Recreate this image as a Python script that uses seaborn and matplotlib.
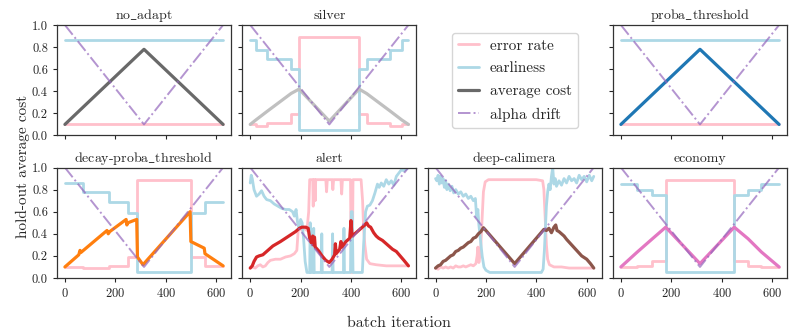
import matplotlib
matplotlib.use("Agg")
import matplotlib.pyplot as plt
import seaborn as sns
from matplotlib.lines import Line2D

sns.set_style("ticks")
plt.rcParams['font.family'] = ['cmr10', 'DejaVu Serif']
plt.rcParams['mathtext.fontset'] = 'cm'
plt.rcParams['axes.formatter.use_mathtext'] = True

# ---------------- data ----------------
ALPHA_X = [0, 314, 628]
ALPHA_Y = [1.0, 0.1, 1.0]

# no_adapt / proba_threshold
CONST_X = [0, 628]
NA_ERR = [0.10, 0.10]
NA_EARL = [0.86, 0.86]
NA_COST_X = [0, 314, 628]
NA_COST = [0.10, 0.78, 0.10]

# silver
SIL_STEP_X = [0, 22, 68, 162, 194, 432, 462, 556, 602, 628]
SIL_ERR = [0.10, 0.09, 0.11, 0.19, 0.89, 0.19, 0.11, 0.09, 0.10, 0.10]
SIL_EARL = [0.86, 0.77, 0.69, 0.60, 0.05, 0.60, 0.69, 0.77, 0.86, 0.86]
SIL_COST_X = [0, 22, 68, 162, 194, 314, 432, 462, 556, 602, 628]
SIL_COST = [0.10, 0.14, 0.22, 0.38, 0.42, 0.13, 0.42, 0.38, 0.22, 0.14, 0.10]

# decay-proba_threshold
DEC_STEP_X = [0, 70, 175, 252, 285, 500, 556, 628]
DEC_ERR = [0.10, 0.09, 0.11, 0.19, 0.89, 0.19, 0.11, 0.11]
DEC_EARL = [0.86, 0.78, 0.69, 0.59, 0.05, 0.59, 0.69, 0.69]
DEC_COST_X = [0, 55, 60, 63, 167, 172, 178, 243, 246, 250, 285, 288, 310,
              497, 500, 553, 556, 628]
DEC_COST = [0.10, 0.21, 0.25, 0.23, 0.43, 0.40, 0.42, 0.53, 0.48, 0.50, 0.53,
            0.19, 0.12, 0.60, 0.33, 0.27, 0.22, 0.11]

# alert
ALE_ERR_X = [0, 10, 20, 30, 40, 50, 60, 70, 80, 100, 120, 140, 160, 175, 185,
             190, 195, 205, 215, 225, 232, 236, 248, 250, 252, 256, 258, 260,
             300, 303, 306, 325, 328, 331, 360, 363, 366, 398, 401, 405, 408,
             440, 446, 450, 455, 462, 475, 500, 540, 600, 628]
ALE_ERR = [0.09, 0.10, 0.09, 0.11, 0.12, 0.10, 0.11, 0.14, 0.16, 0.17, 0.17,
           0.19, 0.20, 0.22, 0.25, 0.42, 0.46, 0.43, 0.45, 0.43, 0.60, 0.89,
           0.89, 0.65, 0.89, 0.89, 0.70, 0.89, 0.89, 0.78, 0.89, 0.89, 0.80,
           0.89, 0.89, 0.76, 0.89, 0.89, 0.05, 0.05, 0.89, 0.89, 0.70, 0.45,
           0.30, 0.17, 0.13, 0.12, 0.11, 0.11, 0.11]
ALE_EARL_X = [0, 4, 8, 15, 25, 35, 45, 55, 65, 80, 95, 110, 125, 140, 155, 168,
              175, 182, 188, 193, 200, 206, 212, 218, 225, 236, 238, 240, 250,
              252, 254, 282, 284, 286, 325, 327, 329, 370, 372, 374, 398, 401,
              405, 408, 445, 450, 458, 465, 475, 485, 495, 505, 512, 520, 530,
              540, 550, 560, 570, 580, 590, 600, 610, 628]
ALE_EARL = [0.86, 0.93, 0.90, 0.80, 0.74, 0.76, 0.79, 0.74, 0.71, 0.70, 0.67,
            0.65, 0.63, 0.62, 0.62, 0.60, 0.56, 0.62, 0.50, 0.46, 0.53, 0.50,
            0.35, 0.15, 0.05, 0.05, 0.50, 0.05, 0.05, 0.45, 0.05, 0.05, 0.40,
            0.05, 0.05, 0.40, 0.05, 0.05, 0.45, 0.05, 0.05, 0.60, 0.60, 0.05,
            0.05, 0.30, 0.60, 0.65, 0.66, 0.70, 0.77, 0.85, 0.82, 0.86, 0.83,
            0.89, 0.85, 0.88, 0.84, 0.92, 0.95, 0.98, 0.97, 1.00]
ALE_COST_X = [0, 8, 15, 25, 35, 50, 60, 75, 90, 105, 120, 140, 160, 180, 195,
              205, 220, 230, 236, 242, 248, 250, 255, 258, 270, 285, 300, 314,
              325, 335, 338, 341, 355, 360, 364, 380, 395, 400, 404, 420, 440,
              455, 462, 470, 478, 490, 500, 510, 525, 540, 555, 565, 580, 595,
              610, 628]
ALE_COST = [0.09, 0.11, 0.15, 0.19, 0.20, 0.21, 0.23, 0.26, 0.29, 0.31, 0.33,
            0.36, 0.39, 0.42, 0.45, 0.46, 0.46, 0.45, 0.36, 0.32, 0.38, 0.30,
            0.37, 0.28, 0.25, 0.20, 0.16, 0.14, 0.17, 0.21, 0.31, 0.22, 0.26,
            0.33, 0.28, 0.33, 0.36, 0.52, 0.38, 0.41, 0.45, 0.48, 0.50, 0.47,
            0.46, 0.41, 0.38, 0.36, 0.34, 0.31, 0.28, 0.26, 0.24, 0.20, 0.16,
            0.11]

# deep-calimera
DC_ERR_X = [0, 10, 20, 30, 40, 50, 60, 70, 80, 90, 100, 110, 120, 130, 140,
            150, 160, 165, 168, 172, 176, 180, 185, 190, 197, 210, 300, 400,
            425, 430, 435, 440, 445, 452, 470, 500, 530, 560, 600, 628]
DC_ERR = [0.09, 0.08, 0.10, 0.09, 0.10, 0.09, 0.10, 0.09, 0.11, 0.10, 0.10,
          0.11, 0.10, 0.11, 0.12, 0.11, 0.13, 0.20, 0.28, 0.14, 0.20, 0.30,
          0.55, 0.78, 0.87, 0.89, 0.89, 0.89, 0.88, 0.80, 0.55, 0.30, 0.17,
          0.12, 0.10, 0.10, 0.09, 0.09, 0.09, 0.09]
DC_EARL_X = [0, 5, 10, 15, 20, 25, 30, 35, 40, 45, 50, 58, 65, 72, 80, 90, 100,
             110, 120, 130, 140, 150, 158, 163, 168, 172, 178, 185, 192, 200,
             215, 300, 420, 427, 432, 436, 440, 445, 450, 455, 460, 465, 470,
             475, 480, 490, 500, 510, 520, 530, 540, 550, 560, 570, 580, 590,
             600, 610, 620, 628]
DC_EARL = [0.90, 0.88, 0.93, 0.85, 0.92, 0.86, 0.90, 0.82, 0.88, 0.80, 0.85,
           0.79, 0.83, 0.77, 0.80, 0.76, 0.78, 0.74, 0.76, 0.72, 0.74, 0.70,
           0.72, 0.55, 0.62, 0.48, 0.35, 0.20, 0.10, 0.07, 0.05, 0.05, 0.05,
           0.08, 0.25, 0.45, 0.65, 0.78, 0.85, 0.80, 0.92, 1.00, 0.85, 0.90,
           0.83, 0.88, 0.84, 0.90, 0.86, 0.92, 0.88, 0.90, 0.86, 0.93, 0.89,
           0.92, 0.87, 0.93, 0.88, 0.92]
DC_COST_X = [0, 10, 20, 30, 40, 50, 60, 70, 80, 90, 100, 110, 120, 130, 140,
             150, 160, 170, 180, 190, 196, 314, 430, 440, 450, 460, 470, 477,
             482, 490, 500, 510, 520, 540, 560, 580, 600, 615, 628]
DC_COST = [0.09, 0.11, 0.12, 0.15, 0.16, 0.18, 0.20, 0.21, 0.24, 0.25, 0.27,
           0.28, 0.30, 0.32, 0.33, 0.36, 0.37, 0.40, 0.42, 0.455, 0.44, 0.13,
           0.44, 0.43, 0.45, 0.41, 0.46, 0.48, 0.43, 0.42, 0.40, 0.38, 0.35,
           0.30, 0.25, 0.20, 0.17, 0.13, 0.09]

# economy
ECO_STEP_X = [0, 65, 125, 178, 450, 505, 558, 628]
ECO_ERR = [0.10, 0.11, 0.155, 0.89, 0.155, 0.11, 0.10, 0.10]
ECO_EARL = [0.85, 0.80, 0.75, 0.05, 0.75, 0.80, 0.85, 0.85]
ECO_COST_X = [0, 65, 125, 178, 314, 450, 505, 558, 628]
ECO_COST = [0.10, 0.235, 0.355, 0.46, 0.13, 0.46, 0.355, 0.235, 0.10]

TITLES = ["no$\\_$adapt", "silver", "proba$\\_$threshold",
          "decay-proba$\\_$threshold", "alert", "deep-calimera", "economy"]
LEGEND_LABELS = ["error rate", "earliness", "average cost", "alpha drift"]

ERR_C = "pink"
EARL_C = "lightblue"
ALPHA_C = "tab:purple"

panels = [
    (0, 0, TITLES[0], (CONST_X, NA_ERR, "-"), (CONST_X, NA_EARL, "-"), (NA_COST_X, NA_COST), "dimgray"),
    (0, 1, TITLES[1], (SIL_STEP_X, SIL_ERR, "steps-post"), (SIL_STEP_X, SIL_EARL, "steps-post"), (SIL_COST_X, SIL_COST), "silver"),
    (0, 3, TITLES[2], (CONST_X, NA_ERR, "-"), (CONST_X, NA_EARL, "-"), (NA_COST_X, NA_COST), "tab:blue"),
    (1, 0, TITLES[3], (DEC_STEP_X, DEC_ERR, "steps-post"), (DEC_STEP_X, DEC_EARL, "steps-post"), (DEC_COST_X, DEC_COST), "tab:orange"),
    (1, 1, TITLES[4], (ALE_ERR_X, ALE_ERR, "-"), (ALE_EARL_X, ALE_EARL, "-"), (ALE_COST_X, ALE_COST), "tab:red"),
    (1, 2, TITLES[5], (DC_ERR_X, DC_ERR, "-"), (DC_EARL_X, DC_EARL, "-"), (DC_COST_X, DC_COST), "tab:brown"),
    (1, 3, TITLES[6], (ECO_STEP_X, ECO_ERR, "steps-post"), (ECO_STEP_X, ECO_EARL, "steps-post"), (ECO_COST_X, ECO_COST), "tab:pink"),
]

fig, axes = plt.subplots(2, 4, figsize=(7.97, 3.32), dpi=100, sharex=True, sharey=True)
fig.subplots_adjust(left=57/797, right=787/797, top=1-25/332, bottom=1-278/332,
                    wspace=0.065, hspace=0.29)


def draw(ax, x, y, color, lw, ds="default", ls="-", alpha=1.0):
    kw = {}
    if ds == "steps-post":
        kw["drawstyle"] = "steps-post"
    sns.lineplot(x=x, y=y, ax=ax, color=color, lw=lw, linestyle=ls, alpha=alpha,
                 estimator=None, sort=False, legend=False, **kw)


for r, c, title, err, earl, cost, ccol in panels:
    ax = axes[r, c]
    draw(ax, err[0], err[1], ERR_C, 2.0, err[2])
    draw(ax, earl[0], earl[1], EARL_C, 2.0, earl[2])
    draw(ax, cost[0], cost[1], ccol, 2.3)
    draw(ax, ALPHA_X, ALPHA_Y, ALPHA_C, 1.4, ls="-.", alpha=0.7)
    ax.set_title(title, fontsize=10, pad=4)
    ax.set_xlabel("")
    ax.set_ylabel("")

for ax in axes.flat:
    ax.set_ylim(0, 1.0)
    ax.set_yticks([0.0, 0.2, 0.4, 0.6, 0.8, 1.0])
    ax.set_xticks([0, 200, 400, 600])
    ax.tick_params(labelsize=9, length=3, width=0.8)
    for s in ax.spines.values():
        s.set_linewidth(0.9)
        s.set_color("#333333")

axes[0, 0].set_yticklabels(["0.0", "0.2", "0.4", "0.6", "0.8", "1.0"])

lax = axes[0, 2]
lax.axis("off")
handles = [
    Line2D([], [], color=ERR_C, lw=2.0),
    Line2D([], [], color=EARL_C, lw=2.0),
    Line2D([], [], color="dimgray", lw=2.3),
    Line2D([], [], color=ALPHA_C, lw=1.4, ls="-.", alpha=0.7),
]
lax.legend(handles, LEGEND_LABELS, loc="center", fontsize=11, frameon=True,
           handlelength=1.4, handletextpad=0.7, labelspacing=0.6)

fig.supylabel("hold-out average cost", fontsize=11, x=0.02)
fig.supxlabel("batch iteration", fontsize=11.5, y=0.005)

fig.savefig("out.png", dpi=100)
